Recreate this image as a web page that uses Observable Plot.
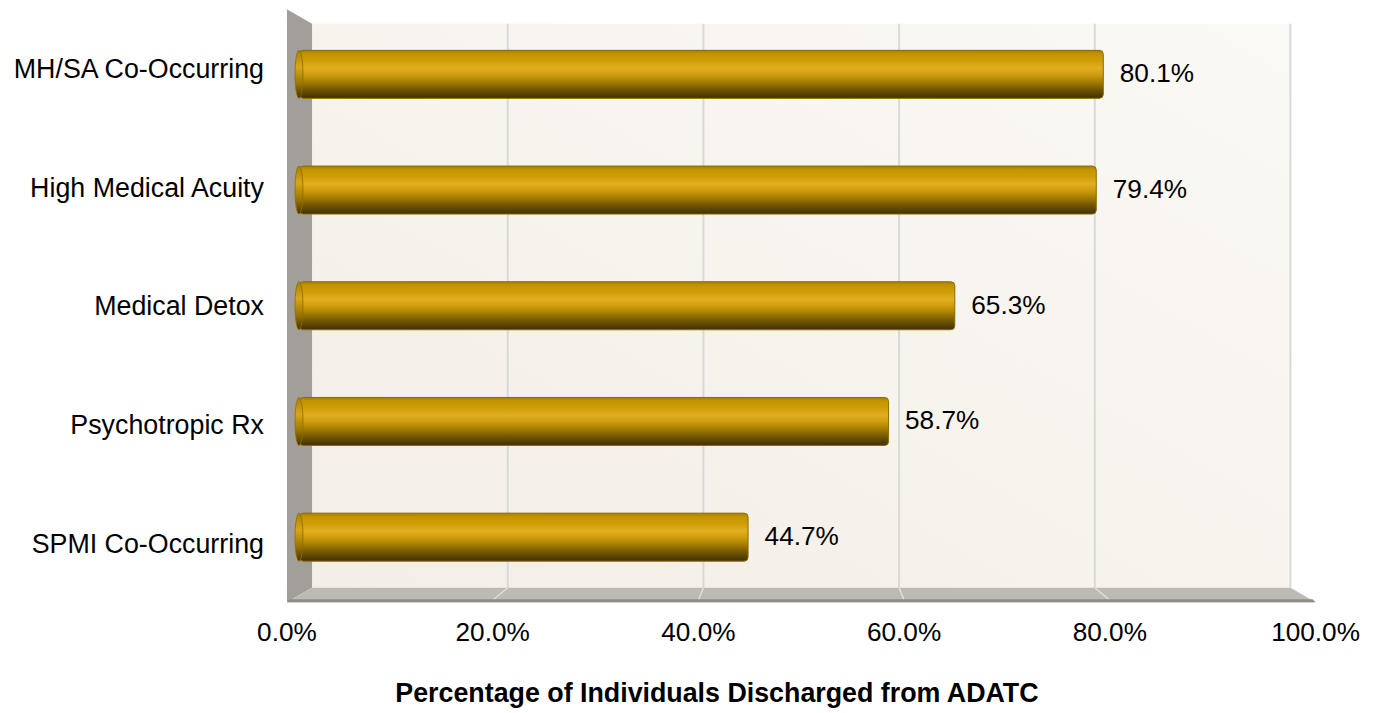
<!DOCTYPE html>
<html>
<head>
<meta charset="utf-8">
<script src="https://cdn.jsdelivr.net/npm/d3@7"></script>
<script src="https://cdn.jsdelivr.net/npm/@observablehq/plot@0.6"></script>
<style>
  html, body { margin: 0; padding: 0; background: #ffffff; }
  #chart svg { display: block; }
</style>
</head>
<body>
<div id="chart"></div>
<script>
// Share of individuals discharged from ADATC, by clinical group
const categories = [
  "MH/SA Co-Occurring",
  "High Medical Acuity",
  "Medical Detox",
  "Psychotropic Rx",
  "SPMI Co-Occurring"
];
const values = [80.1, 79.4, 65.3, 58.7, 44.7];
const xTicks = [0, 20, 40, 60, 80, 100];
const xTickLabels = ["0.0%", "20.0%", "40.0%", "60.0%", "80.0%", "100.0%"];
const xTitle = "Percentage of Individuals Discharged from ADATC";

const rows = categories.map((c, i) => ({category: c, value: values[i]}));

const FONT = "'Liberation Sans', Arial, Helvetica, sans-serif";
const FS_LABEL = 26.8;   // category labels and axis title
const FS_VALUE = 26.2;   // tick labels and value labels
// depth of the 3-D box around the bars: front plane is +DEPTH, back wall is -DEPTH
const DEPTH = 0.025;

// perspective helper around the centre of the plotting frame
function projector(scales, dims) {
  const {x} = scales;
  const top = dims.marginTop, bottom = dims.height - dims.marginBottom;
  const cx = (x(0) + x(100)) / 2, cy = (top + bottom) / 2;
  const P = (px, py, d) => [cx + (px - cx) * (1 + d), cy + (py - cy) * (1 + d)];
  return {P, top, bottom, cx, cy};
}

// back wall, side wall, floor and gridlines
function room(index, scales, channels, dims) {
  const {x} = scales;
  const {P, top, bottom} = projector(scales, dims);
  const g = d3.create("svg:g");
  const defs = g.append("defs");
  const wall = defs.append("linearGradient").attr("id", "wallGrad")
    .attr("x1", 0).attr("y1", 1).attr("x2", 1).attr("y2", 0);
  wall.append("stop").attr("offset", 0).attr("stop-color", "#f3eee6");
  wall.append("stop").attr("offset", 1).attr("stop-color", "#fbf9f5");
  const bar = defs.append("linearGradient").attr("id", "barGrad")
    .attr("x1", 0).attr("y1", 0).attr("x2", 0).attr("y2", 1);
  [[0, "#a57c00"], [0.07, "#c39300"], [0.22, "#cf9e06"], [0.37, "#e2ae22"],
   [0.5, "#d09e10"], [0.64, "#aa8200"], [0.8, "#765a00"], [1, "#3f3100"]]
    .forEach(([o, c]) => bar.append("stop").attr("offset", o).attr("stop-color", c));
  const cap = defs.append("linearGradient").attr("id", "capGrad")
    .attr("x1", 0).attr("y1", 0).attr("x2", 0).attr("y2", 1);
  [[0, "#a87e00"], [0.35, "#d9a616"], [0.7, "#997400"], [1, "#413200"]]
    .forEach(([o, c]) => cap.append("stop").attr("offset", o).attr("stop-color", c));

  const pts = a => a.map(p => p.join(",")).join(" ");
  const x0 = x(0), x1 = x(100);
  const B = -DEPTH, F = DEPTH;

  // back wall
  g.append("polygon")
    .attr("points", pts([P(x0, top, B), P(x1, top, B), P(x1, bottom, B), P(x0, bottom, B)]))
    .attr("fill", "url(#wallGrad)");
  // vertical gridlines on the back wall
  for (const t of xTicks.slice(1)) {
    const a = P(x(t), top, B), b = P(x(t), bottom, B);
    g.append("line").attr("x1", a[0]).attr("y1", a[1]).attr("x2", b[0]).attr("y2", b[1])
      .attr("stroke", "#d9d9d9").attr("stroke-width", 2);
  }
  // left side wall
  g.append("polygon")
    .attr("points", pts([P(x0, top, F), P(x0, top, B), P(x0, bottom, B), P(x0, bottom, F)]))
    .attr("fill", "#a29f9b");
  // floor
  g.append("polygon")
    .attr("points", pts([P(x0, bottom, B), P(x1, bottom, B), P(x1, bottom, F), P(x0, bottom, F)]))
    .attr("fill", "#bdbab3");
  for (const t of xTicks.slice(1, -1)) {
    const a = P(x(t), bottom, B), b = P(x(t), bottom, F);
    g.append("line").attr("x1", a[0]).attr("y1", a[1]).attr("x2", b[0]).attr("y2", b[1] - 2)
      .attr("stroke", "#e2dfda").attr("stroke-width", 1.5);
  }
  // front edge of the floor
  const fl = P(x0, bottom, F), fr = P(x1, bottom, F);
  g.append("polygon")
    .attr("points", pts([[fl[0] + 3, fl[1] - 3], [fr[0] - 3, fr[1] - 3], fr, fl]))
    .attr("fill", "#8f8c88");
  return g.node();
}

// elliptical end faces at the base of each cylinder
function caps(index, scales, channels, dims) {
  const {x, y} = scales;
  const bw = y.bandwidth();
  const g = d3.create("svg:g");
  for (const c of categories) {
    g.append("ellipse")
      .attr("cx", x(0) - 0.5).attr("cy", y(c) + bw / 2)
      .attr("rx", 4).attr("ry", bw / 2)
      .attr("fill", "url(#capGrad)")
      .attr("stroke", "#8f6d00").attr("stroke-width", 0.8);
  }
  return g.node();
}

// category labels, tick labels and axis title on the front plane
function frontText(index, scales, channels, dims) {
  const {x, y} = scales;
  const bw = y.bandwidth();
  const {P, bottom} = projector(scales, dims);
  const g = d3.create("svg:g")
    .attr("font-family", FONT).attr("fill", "#000");
  for (const c of categories) {
    const [px, py] = P(x(0), y(c) + bw / 2, DEPTH);
    g.append("text").attr("x", px - 23).attr("y", py).attr("dy", "0.36em")
      .attr("font-size", FS_LABEL).attr("text-anchor", "end").text(c);
  }
  xTicks.forEach((t, i) => {
    const [px, py] = P(x(t), bottom, DEPTH);
    g.append("text").attr("x", px).attr("y", py + 39)
      .attr("font-size", FS_VALUE).attr("text-anchor", "middle").text(xTickLabels[i]);
  });
  const [lx, ly] = P(x(0), bottom, DEPTH);
  g.append("text").attr("x", (lx + x(100)) / 2 - 78).attr("y", ly + 99.5)
    .attr("font-size", FS_LABEL).attr("text-anchor", "middle")
    .attr("font-weight", "bold").text(xTitle);
  return g.node();
}

const chart = Plot.plot({
  width: 1375,
  height: 713,
  marginLeft: 299.5,
  marginRight: 72,
  marginTop: 16.5,
  marginBottom: 118,
  style: {fontFamily: FONT, fontSize: FS_VALUE + "px", background: "#ffffff", overflow: "visible"},
  x: {domain: [0, 100], axis: null},
  y: {domain: categories, axis: null, paddingInner: 0.585, paddingOuter: 0.2925, round: false},
  marks: [
    room,
    Plot.barX(rows, {
      x1: 0, x2: "value", y: "category",
      fill: "url(#barGrad)", stroke: "#8c6c00", strokeWidth: 1, rx: 4
    }),
    caps,
    Plot.text(rows, {
      x: "value", y: "category",
      text: d => d.value.toFixed(1) + "%",
      textAnchor: "start", dx: 16, dy: -1,
      fontSize: FS_VALUE, fill: "#000"
    }),
    frontText
  ]
});

document.getElementById("chart").appendChild(chart);
</script>
</body>
</html>
